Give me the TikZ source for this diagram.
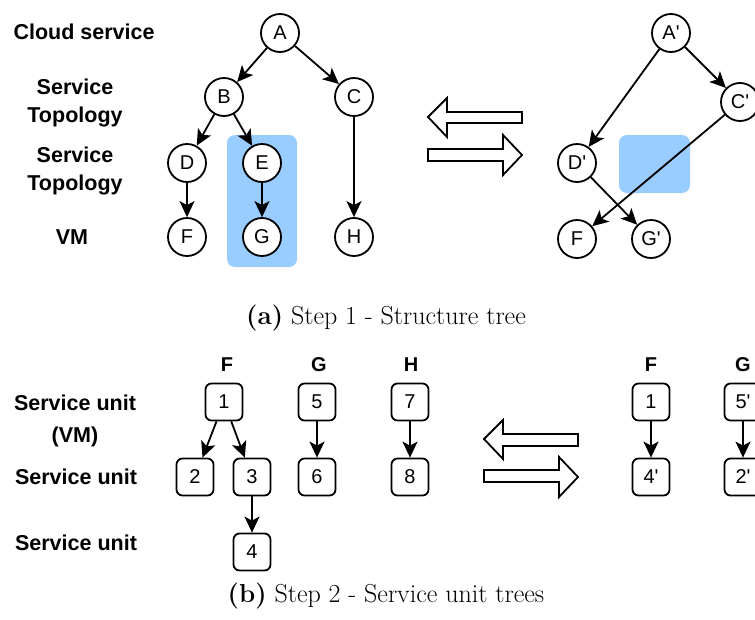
\documentclass[tikz,border=0pt]{standalone}
\usepackage{fontspec}
\setsansfont{Liberation Sans}
\usepackage{xcolor}
\usetikzlibrary{arrows.meta}
\definecolor{selblue}{HTML}{99CCFF}

\begin{document}
\begin{tikzpicture}[x=1pt,y=-1pt]
\tikzset{>={Stealth[length=16pt,width=15pt,inset=4pt]}}
\tikzstyle{vertex}=[circle,draw=black,line width=1.8pt,fill=white,minimum size=38pt,inner sep=0pt,font=\sffamily\fontsize{20}{20}\selectfont]
\tikzstyle{unit}=[rectangle,rounded corners=6pt,draw=black,line width=1.8pt,minimum size=37pt,inner sep=0pt,font=\sffamily\fontsize{20}{20}\selectfont]
\tikzstyle{layer}=[font=\sffamily\bfseries\fontsize{21.5}{28}\selectfont,align=center]
\tikzstyle{vmname}=[font=\sffamily\bfseries\fontsize{20}{20}\selectfont]
\tikzstyle{hilite}=[fill=selblue,rounded corners=8pt]
\tikzstyle{blockarrow}=[draw=black,line width=1.8pt,fill=white]
\tikzstyle{subcap}=[font=\fontsize{26}{26}\selectfont]

\useasboundingbox (0,0) rectangle (755,619);

% (a) structure tree
\fill[hilite] (227,135) rectangle (297,267);
\fill[hilite] (619,135) rectangle (690,193);

\node[layer] (lcloud) at (84,32) {Cloud service};
\node[layer] (ltopo1) at (75,103) {Service\\Topology};
\node[layer] (ltopo2) at (75,171) {Service\\Topology};
\node[layer] (lvm) at (72,237) {VM};

\node[vertex] (A) at (280,33) {A};
\node[vertex] (B) at (224,97) {B};
\node[vertex] (C) at (354,97) {C};
\node[vertex] (D) at (187,163) {D};
\node[vertex] (E) at (262,163) {E};
\node[vertex] (F) at (187,237) {F};
\node[vertex] (G) at (262,237) {G};
\node[vertex] (H) at (354,237) {H};
\draw[->,line width=1.8pt] (A) to (B);
\draw[->,line width=1.8pt] (A) to (C);
\draw[->,line width=1.8pt] (B) to (D);
\draw[->,line width=1.8pt] (B) to (E);
\draw[->,line width=1.8pt] (C) to (H);
\draw[->,line width=1.8pt] (D) to (F);
\draw[->,line width=1.8pt] (E) to (G);

\draw[blockarrow] (428,117) -- (447,98) -- (447,112) -- (522,112) -- (522,123) -- (447,123) -- (447,137) -- cycle;
\draw[blockarrow] (522,155) -- (503,135) -- (503,149) -- (428,149) -- (428,161) -- (503,161) -- (503,175) -- cycle;

\node[vertex] (Ap) at (671,33) {A\textquotesingle};
\node[vertex] (Cp) at (740,102) {C\textquotesingle};
\node[vertex] (Dp) at (577,163) {D\textquotesingle};
\node[vertex] (Fp) at (577,239) {F};
\node[vertex] (Gp) at (651,239) {G\textquotesingle};
\draw[->,line width=1.8pt] (Ap) to (Dp);
\draw[->,line width=1.8pt] (Ap) to (Cp);
\draw[->,line width=1.8pt] (Cp) to (Fp);
\draw[->,line width=1.8pt] (Dp) to (Gp);

\node[subcap] (capa) at (386,318) {\textbf{(a)} Step 1 - Structure tree};

% (b) service unit trees
\node[layer,font=\sffamily\bfseries\fontsize{21.5}{32}\selectfont] (lunit1) at (75,421) {Service unit\\(VM)};
\node[layer] (lunit2) at (76,477) {Service unit};
\node[layer] (lunit3) at (76,543) {Service unit};

\node[vmname] (nF) at (227,365) {F};
\node[vmname] (nG) at (319,365) {G};
\node[vmname] (nH) at (411,365) {H};
\node[unit] (u1) at (224,402) {1};
\node[unit] (u5) at (317,402) {5};
\node[unit] (u7) at (410,402) {7};
\node[unit] (u2) at (195,477) {2};
\node[unit] (u3) at (252,477) {3};
\node[unit] (u6) at (317,477) {6};
\node[unit] (u8) at (410,477) {8};
\node[unit] (u4) at (252,552) {4};
\draw[->,line width=1.8pt] (u1) to (u2);
\draw[->,line width=1.8pt] (u1) to (u3);
\draw[->,line width=1.8pt] (u3) to (u4);
\draw[->,line width=1.8pt] (u5) to (u6);
\draw[->,line width=1.8pt] (u7) to (u8);

\draw[blockarrow] (484,439) -- (503,420) -- (503,434) -- (578,434) -- (578,446) -- (503,446) -- (503,459) -- cycle;
\draw[blockarrow] (578,477) -- (559,457) -- (559,470) -- (484,470) -- (484,482) -- (559,482) -- (559,497) -- cycle;

\node[vmname] (nFp) at (651,365) {F};
\node[vmname] (nGp) at (743,365) {G};
\node[unit] (r1) at (651,402) {1};
\node[unit] (r4) at (651,477) {4\textquotesingle};
\node[unit] (r5) at (743,402) {5\textquotesingle};
\node[unit] (r2) at (743,477) {2\textquotesingle};
\draw[->,line width=1.8pt] (r1) to (r4);
\draw[->,line width=1.8pt] (r5) to (r2);

\node[subcap] (capb) at (386,596) {\textbf{(b)} Step 2 - Service unit trees};
\end{tikzpicture}
\end{document}
